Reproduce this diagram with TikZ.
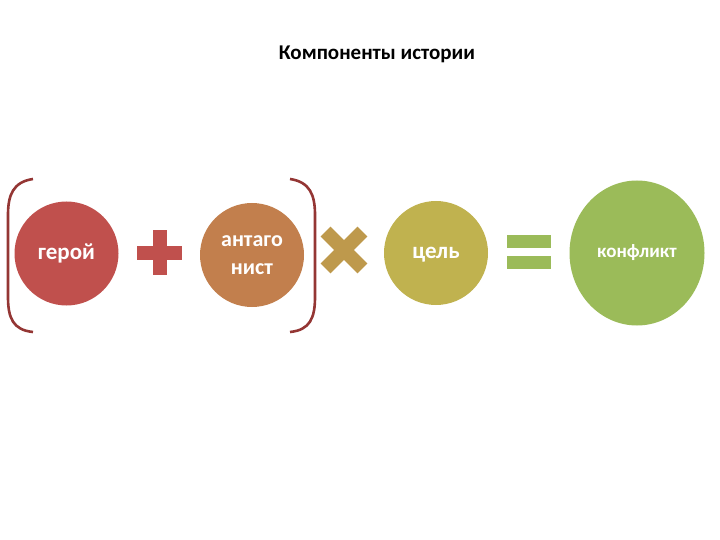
\documentclass[tikz,border=0pt]{standalone}
\usepackage{fontspec}
\setmainfont{Carlito}
\usepackage{tikz}
\usetikzlibrary{shapes.geometric}

\definecolor{heroRed}{HTML}{C0504D}
\definecolor{antOrange}{HTML}{C27F4D}
\definecolor{goalOlive}{HTML}{C0B24F}
\definecolor{crossGold}{HTML}{BE994C}
\definecolor{conflGreen}{HTML}{9BBB59}
\definecolor{bracketRed}{HTML}{943634}

\tikzset{
    part/.style={circle, minimum size=104pt, inner sep=0pt, text=white, align=center},
    bracket/.style={draw=bracketRed, line width=2.6pt},
}

\begin{document}
\begin{tikzpicture}[x=1pt, y=-1pt]
    \useasboundingbox (0,0) rectangle (720,540);

    % Title
    \node (title) at (377,54) {\bfseries\fontsize{21pt}{25pt}\selectfont Компоненты истории};

    % Left bracket
    \draw[bracket] (33,179) .. controls (13,182) and (8,195) .. (8,215) -- (8,297)
        .. controls (8,318) and (13,330) .. (33,332);

    % Hero
    \node[part, fill=heroRed, font=\bfseries\fontsize{23pt}{28pt}\selectfont] (hero) at (66.5,253.5) {герой};

    % Plus
    \fill[heroRed] (137,245.5) rectangle (182,259.5);
    \fill[heroRed] (152.5,230) rectangle (166.5,275);

    % Antagonist
    \node[part, fill=antOrange, font=\bfseries\fontsize{22pt}{28pt}\selectfont] (antagonist) at (252,255) {антаго\\нист};

    % Right bracket
    \draw[bracket] (290,179) .. controls (310,182) and (315,195) .. (315,215) -- (315,297)
        .. controls (315,318) and (310,330) .. (290,332);

    % Times
    \fill[crossGold, rotate around={45:(344,250)}] (318,243) rectangle (370,257);
    \fill[crossGold, rotate around={-45:(344,250)}] (318,243) rectangle (370,257);

    % Goal
    \node[part, fill=goalOlive, font=\bfseries\fontsize{23pt}{28pt}\selectfont, text depth=0pt] (goal) at (436,253) {цель};

    % Equals
    \fill[conflGreen] (507,235) rectangle (551,248);
    \fill[conflGreen] (507,256) rectangle (551,269);

    % Conflict
    \node[part, ellipse, minimum width=135pt, minimum height=145pt, fill=conflGreen,
        font=\bfseries\fontsize{19pt}{22pt}\selectfont] (conflict) at (637,253) {конфликт};
\end{tikzpicture}
\end{document}
